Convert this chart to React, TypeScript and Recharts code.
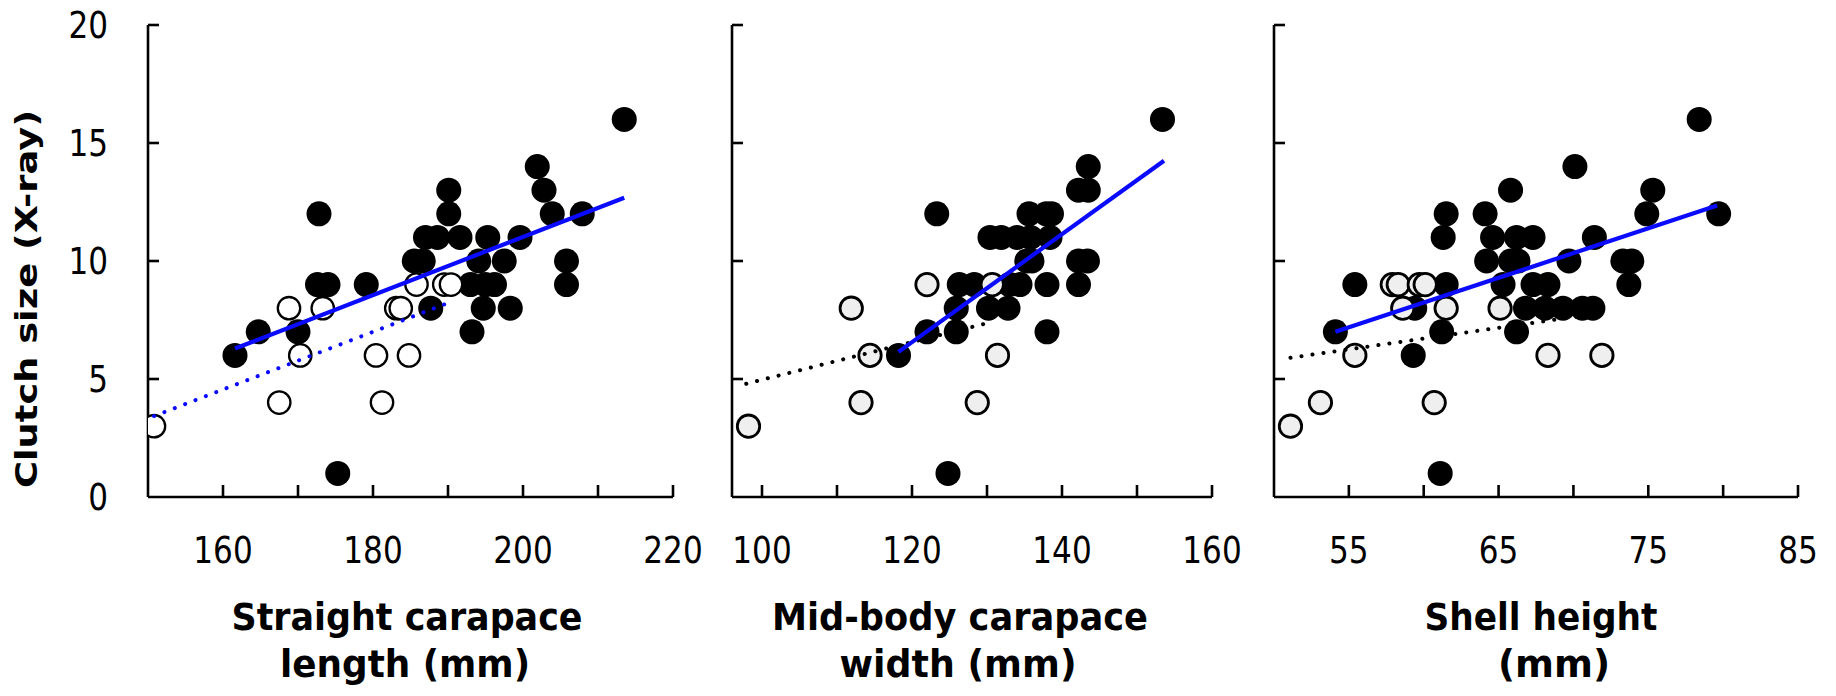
import React from 'react';
import { ScatterChart, Scatter, XAxis, YAxis } from 'recharts';

const W = 1836;
const H = 696;
const FONT = '"DejaVu Sans", Verdana, sans-serif';
const BLUE = '#0a0aff';

// shared y axis (clutch size)
const yTicks = [0, 5, 10, 15, 20];
const yLabels = [0, 5, 10, 15, 20];

// straight carapace length (mm)
const sclTicks = [160, 170, 180, 190, 200, 210, 220];
const sclLabels = [160, 180, 200, 220];
const sclFilled = [
  [161.6, 6], [164.7, 7], [170, 7], [172.8, 12], [172.6, 9], [174, 9], [175.3, 1],
  [179.1, 9], [185.5, 10], [186.7, 10], [187, 11], [188.6, 11], [187.7, 8], [190.1, 13],
  [190.1, 12], [191.6, 11], [193.2, 7], [193, 9], [195, 9], [196.2, 9], [194.1, 10],
  [197.5, 10], [195.3, 11], [194.7, 8], [198.3, 8], [199.6, 11], [201.9, 14], [202.8, 13],
  [203.9, 12], [207.9, 12], [205.8, 10], [205.8, 9], [213.5, 16],
];
const sclOpen = [
  [150.8, 3], [167.5, 4], [168.8, 8], [173.3, 8], [170.3, 6], [180.4, 6], [181.2, 4],
  [184.8, 6], [183.1, 8], [183.7, 8], [185.8, 9], [189.5, 9], [190.4, 9],
];
const sclFit = [[161.6, 6.29], [213.5, 12.68]];
const sclFitOpen = [[150.8, 3.43], [189.5, 8.16]];

// mid-body carapace width (mm)
const mcwTicks = [100, 110, 120, 130, 140, 150, 160];
const mcwLabels = [100, 120, 140, 160];
const mcwFilled = [
  [153.4, 16], [143.5, 14], [142.2, 13], [143.5, 13], [123.3, 12], [135.6, 12], [137.9, 12],
  [138.6, 12], [130.4, 11], [131.9, 11], [134, 11], [135.8, 11], [138.4, 11], [135.3, 10],
  [136, 10], [142.2, 10], [143.4, 10], [126.3, 9], [128.3, 9], [133, 9], [134.4, 9], [138, 9],
  [142.2, 9], [125.9, 8], [130.2, 8], [132.8, 8], [122, 7], [125.9, 7], [138, 7], [118.2, 6],
  [124.8, 1],
];
const mcwOpen = [
  [98.2, 3], [111.9, 8], [114.4, 6], [113.2, 4], [122, 9], [128.7, 4], [131.4, 6], [130.7, 9],
];
const mcwFit = [[118.2, 6.15], [153.6, 14.25]];
const mcwFitOpen = [[97.9, 4.8], [130.7, 7.42]];

// shell height (mm)
const shTicks = [55, 60, 65, 70, 75, 80, 85];
const shLabels = [55, 65, 75, 85];
const shFilled = [
  [78.4, 16], [70.1, 14], [65.8, 13], [75.3, 13], [61.5, 12], [64.1, 12], [74.9, 12],
  [79.7, 12], [61.3, 11], [64.6, 11], [66.2, 11], [67.3, 11], [71.4, 11], [64.2, 10],
  [65.8, 10], [66.3, 10], [69.7, 10], [73.3, 10], [73.9, 10], [55.4, 9], [61.5, 9], [65.3, 9],
  [67.3, 9], [68.3, 9], [73.7, 9], [59.4, 8], [66.8, 8], [68.1, 8], [69.3, 8], [70.6, 8],
  [71.3, 8], [54.1, 7], [61.2, 7], [66.2, 7], [59.3, 6], [61.1, 1],
];
const shOpen = [
  [51.1, 3], [53.1, 4], [60.7, 4], [55.4, 6], [68.3, 6], [71.9, 6], [57.9, 9], [58.3, 9],
  [59.7, 9], [60.1, 9], [58.6, 8], [61.5, 8], [65.1, 8],
];
const shFit = [[54.1, 7.0], [79.6, 12.35]];
const shFitOpen = [[51.1, 5.9], [71.9, 7.8]];

const toPts = (arr: number[][]) => arr.map(([x, y]) => ({ x, y }));

type TitleLine = { text: string; cx: number; y: number; w: number };

type Panel = {
  plotLeft: number;
  plotRight: number;
  domain: [number, number];
  ticks: number[];
  labels: number[];
  filled: number[][];
  open: number[][];
  fit: number[][];
  fitOpen: number[][];
  openFill: string;
  openStroke: number;
  dotColor: string;
  title: TitleLine[];
  showY: boolean;
};

const PLOT_TOP = 25;
const PLOT_BOTTOM = 497;
const AXIS_SIZE = 1; // axes with 0 size are not drawn

const panels: Panel[] = [
  {
    plotLeft: 148, plotRight: 673, domain: [150, 220], ticks: sclTicks, labels: sclLabels,
    filled: sclFilled, open: sclOpen, fit: sclFit, fitOpen: sclFitOpen,
    openFill: '#ffffff', openStroke: 2.3, dotColor: BLUE, showY: true,
    title: [
      { text: 'Straight carapace', cx: 407, y: 630, w: 351 },
      { text: 'length (mm)', cx: 405, y: 677, w: 250 },
    ],
  },
  {
    plotLeft: 732, plotRight: 1212, domain: [96, 160], ticks: mcwTicks, labels: mcwLabels,
    filled: mcwFilled, open: mcwOpen, fit: mcwFit, fitOpen: mcwFitOpen,
    openFill: '#efefef', openStroke: 2.8, dotColor: '#000', showY: false,
    title: [
      { text: 'Mid-body carapace', cx: 960, y: 630, w: 376 },
      { text: 'width (mm)', cx: 958, y: 677, w: 237 },
    ],
  },
  {
    plotLeft: 1274, plotRight: 1798, domain: [50, 85], ticks: shTicks, labels: shLabels,
    filled: shFilled, open: shOpen, fit: shFit, fitOpen: shFitOpen,
    openFill: '#efefef', openStroke: 2.8, dotColor: '#000', showY: false,
    title: [
      { text: 'Shell height', cx: 1541, y: 630, w: 233 },
      { text: '(mm)', cx: 1554, y: 677, w: 112 },
    ],
  },
];

const DIGIT_W = 19.8;

const makeXTick = (labels: number[]) => (props: any) => {
  const { x, y, payload } = props;
  const v = payload.value;
  const s = String(v);
  return (
    <g>
      <line x1={x} y1={y} x2={x} y2={y - 12} stroke="#000" strokeWidth={2.6} />
      {labels.includes(v) && (
        <text
          x={x}
          y={y + 66}
          textAnchor="middle"
          fontFamily={FONT}
          fontSize={37}
          fill="#000"
          textLength={s.length * DIGIT_W}
          lengthAdjust="spacingAndGlyphs"
        >
          {s}
        </text>
      )}
    </g>
  );
};

const makeYTick = (showLabel: boolean) => (props: any) => {
  const { x, y, payload } = props;
  const v = payload.value;
  const s = String(v);
  return (
    <g>
      {v !== 0 && <line x1={x} y1={y} x2={x + 11} y2={y} stroke="#000" strokeWidth={2.6} />}
      {showLabel && yLabels.includes(v) && (
        <text
          x={x - 40}
          y={y + 13}
          textAnchor="end"
          fontFamily={FONT}
          fontSize={37}
          fill="#000"
          textLength={s.length * DIGIT_W}
          lengthAdjust="spacingAndGlyphs"
        >
          {s}
        </text>
      )}
    </g>
  );
};

const xTitle = (lines: TitleLine[]) => () => (
  <g>
    {lines.map((l, i) => (
      <text
        key={i}
        x={l.cx}
        y={l.y}
        textAnchor="middle"
        fontFamily={FONT}
        fontWeight="bold"
        fontSize={37}
        fill="#000"
        textLength={l.w}
        lengthAdjust="spacingAndGlyphs"
      >
        {l.text}
      </text>
    ))}
  </g>
);

const yTitle = () => (
  <text
    transform="translate(37, 299) scale(0.8, 1) rotate(-90)"
    x={0}
    y={0}
    textAnchor="middle"
    fontFamily={FONT}
    fontWeight="bold"
    fontSize={37}
    fill="#000"
    textLength={378}
    lengthAdjust="spacingAndGlyphs"
  >
    Clutch size (X-ray)
  </text>
);

const filledShape = (p: any) => <circle cx={p.cx} cy={p.cy} r={12.5} fill="#000" />;
const noShape = () => <g />;

function PanelChart({ p }: { p: Panel }) {
  const openShape = (s: any) => (
    <circle cx={s.cx} cy={s.cy} r={11.2} fill={p.openFill} stroke="#000" strokeWidth={p.openStroke} />
  );
  return (
    <div style={{ position: 'absolute', left: 0, top: 0 }}>
      <ScatterChart
        width={W}
        height={H}
        margin={{
          top: PLOT_TOP,
          bottom: H - PLOT_BOTTOM - AXIS_SIZE,
          left: p.plotLeft - AXIS_SIZE,
          right: W - p.plotRight,
        }}
      >
        <XAxis
          type="number"
          dataKey="x"
          domain={p.domain}
          ticks={p.ticks}
          interval={0}
          allowDataOverflow
          height={AXIS_SIZE}
          tickSize={0}
          tickMargin={0}
          tickLine={false}
          axisLine={{ stroke: '#000', strokeWidth: 2.6 }}
          tick={makeXTick(p.labels)}
          label={xTitle(p.title)}
        />
        <YAxis
          type="number"
          dataKey="y"
          domain={[0, 20]}
          ticks={yTicks}
          interval={0}
          allowDataOverflow
          width={AXIS_SIZE}
          tickSize={0}
          tickMargin={0}
          tickLine={false}
          axisLine={{ stroke: '#000', strokeWidth: 2.6 }}
          tick={makeYTick(p.showY)}
          label={p.showY ? yTitle : undefined}
        />
        <Scatter data={toPts(p.filled)} shape={filledShape} isAnimationActive={false} />
        <Scatter data={toPts(p.open)} shape={openShape} isAnimationActive={false} />
        <Scatter
          data={toPts(p.fitOpen)}
          shape={noShape}
          line={{ stroke: p.dotColor, strokeWidth: 4, strokeDasharray: '0.1 11', strokeLinecap: 'round' }}
          isAnimationActive={false}
        />
        <Scatter
          data={toPts(p.fit)}
          shape={noShape}
          line={{ stroke: BLUE, strokeWidth: 4.2 }}
          isAnimationActive={false}
        />
      </ScatterChart>
    </div>
  );
}

export default function App() {
  return (
    <div style={{ position: 'absolute', left: 0, top: 0, width: W, height: H, background: '#fff' }}>
      {panels.map((p, i) => (
        <PanelChart key={i} p={p} />
      ))}
    </div>
  );
}
